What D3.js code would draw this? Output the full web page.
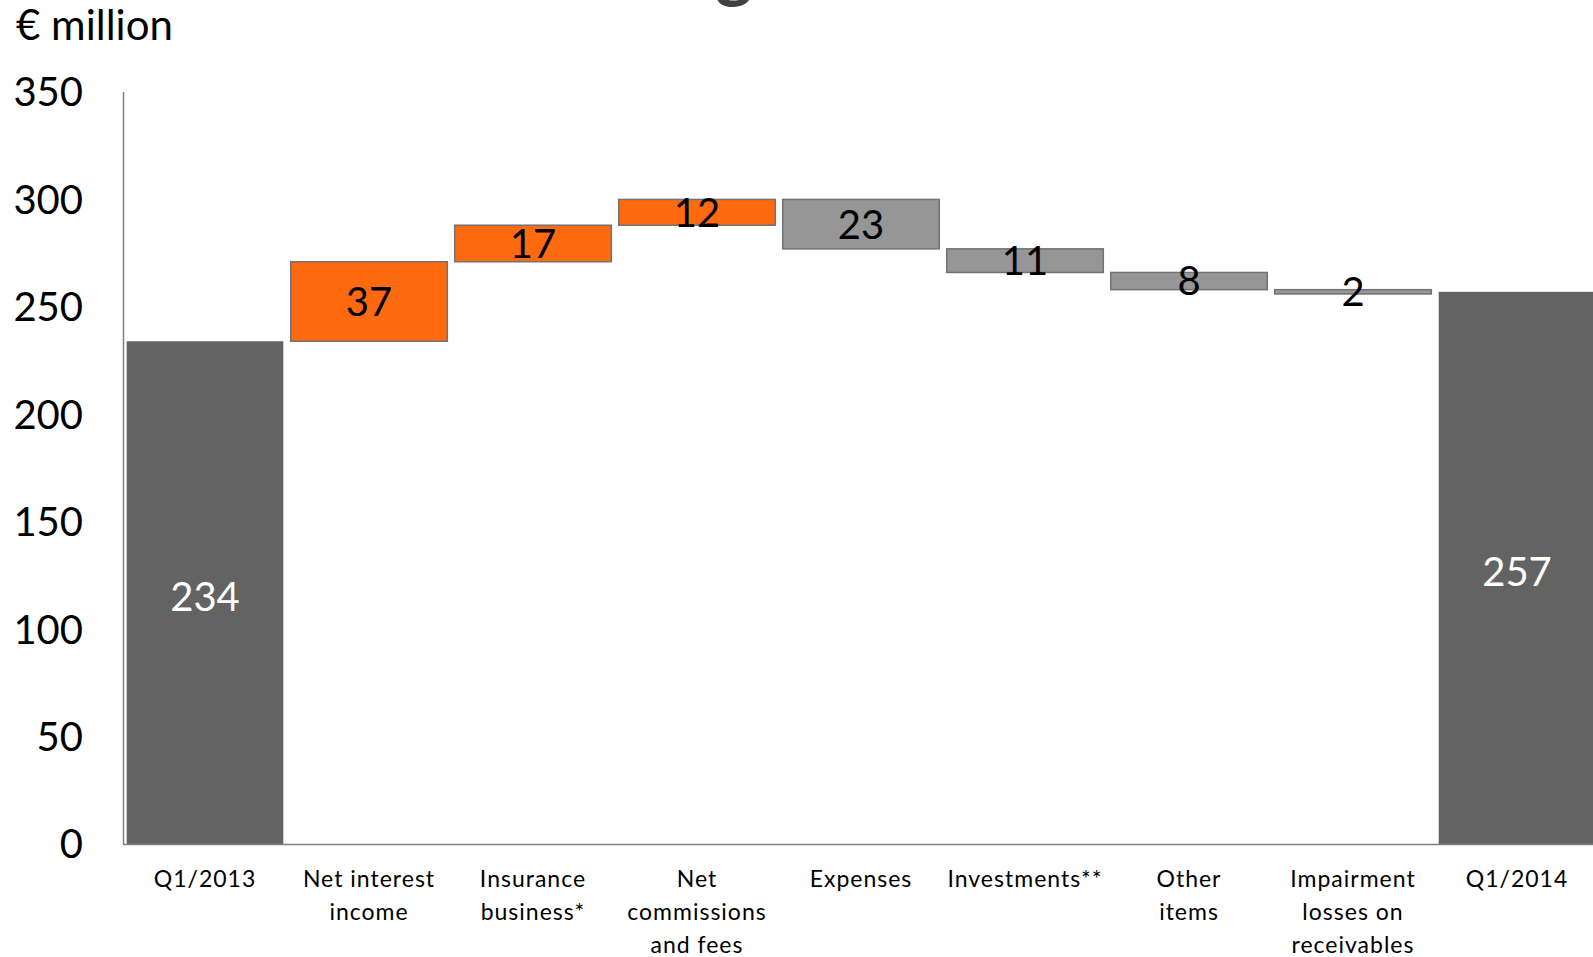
<!DOCTYPE html>
<html>
<head>
<meta charset="utf-8">
<style>
  body { margin: 0; background: #fff; overflow: hidden; }
  svg text { font-family: Lato, "Open Sans", sans-serif; }
</style>
</head>
<body>
<div id="chart"></div>
<script src="https://d3js.org/d3.v7.min.js"></script>
<script>
  // waterfall data
  var categories = ["Q1/2013", "Net interest income", "Insurance business*", "Net commissions and fees",
                    "Expenses", "Investments**", "Other items", "Impairment losses on receivables", "Q1/2014"];
  var labelLines = [["Q1/2013"], ["Net interest", "income"], ["Insurance", "business*"], ["Net", "commissions", "and fees"],
                    ["Expenses"], ["Investments**"], ["Other", "items"], ["Impairment", "losses on", "receivables"], ["Q1/2014"]];
  var values = [234, 37, 17, 12, -23, -11, -8, -2, 257];
  var kinds = ["total", "up", "up", "up", "down", "down", "down", "down", "total"];
  var yTicks = [0, 50, 100, 150, 200, 250, 300, 350];

  var width = 1593, height = 957;
  var svg = d3.select("#chart").append("svg")
    .attr("width", width)
    .attr("height", height);

  var x = d3.scaleBand()
    .domain(categories)
    .range([123, 123 + 9 * 164])
    .paddingInner(0.045)
    .paddingOuter(0.0225);

  var y = d3.scaleLinear()
    .domain([0, 350])
    .range([844, 92]);

  // running totals for the floating bars
  var bars = [];
  var run = 0;
  for (var i = 0; i < values.length; i++) {
    var lo, hi;
    if (kinds[i] == "total") {
      lo = 0; hi = values[i]; run = values[i];
    } else {
      lo = Math.min(run, run + values[i]);
      hi = Math.max(run, run + values[i]);
      run = run + values[i];
    }
    bars.push({ cat: categories[i], lo: lo, hi: hi, v: values[i], kind: kinds[i] });
  }

  var fill = { total: "#636363", up: "#FF6A10", down: "#969696" };

  // title, cut off at the top edge like in the source
  svg.append("text")
    .attr("x", 734)
    .attr("y", -7)
    .attr("text-anchor", "middle")
    .attr("font-size", "72px")
    .attr("font-weight", "bold")
    .attr("fill", "#404040")
    .text("g");

  svg.append("text")
    .attr("x", 16)
    .attr("y", 40)
    .attr("font-size", "42px")
    .attr("fill", "#000")
    .text("€ million");

  svg.selectAll(".ytick")
    .data(yTicks)
    .enter().append("text")
    .attr("class", "ytick")
    .attr("x", 83)
    .attr("y", function(d) { return y(d); })
    .attr("dy", "0.36em")
    .attr("text-anchor", "end")
    .attr("font-size", "40px")
    .attr("fill", "#000")
    .text(function(d) { return d; });

  svg.selectAll(".bar")
    .data(bars)
    .enter().append("rect")
    .attr("class", "bar")
    .attr("x", function(d) { return x(d.cat); })
    .attr("width", x.bandwidth())
    .attr("y", function(d) { return y(d.hi); })
    .attr("height", function(d) { return y(d.lo) - y(d.hi); })
    .attr("fill", function(d) { return fill[d.kind]; })
    .attr("stroke", function(d) { return d.kind == "total" ? "none" : "#737373"; })
    .attr("stroke-width", 1.5);

  // axis lines
  svg.append("line")
    .attr("x1", 123.5).attr("y1", 92)
    .attr("x2", 123.5).attr("y2", 844)
    .attr("stroke", "#808080").attr("stroke-width", 1.5);
  svg.append("line")
    .attr("x1", 123).attr("y1", 844.5)
    .attr("x2", width).attr("y2", 844.5)
    .attr("stroke", "#808080").attr("stroke-width", 1.5);

  svg.selectAll(".val")
    .data(bars)
    .enter().append("text")
    .attr("class", "val")
    .attr("x", function(d) { return x(d.cat) + x.bandwidth() / 2; })
    .attr("y", function(d) { return (y(d.lo) + y(d.hi)) / 2 + (d.kind == "total" ? 4 : 0); })
    .attr("dy", "0.36em")
    .attr("text-anchor", "middle")
    .attr("font-size", "40px")
    .attr("fill", function(d) { return d.kind == "total" ? "#fff" : "#000"; })
    .text(function(d) { return Math.abs(d.v); });

  var cat = svg.selectAll(".cat")
    .data(categories)
    .enter().append("text")
    .attr("class", "cat")
    .attr("x", function(d) { return x(d) + x.bandwidth() / 2; })
    .attr("y", 887)
    .attr("text-anchor", "middle")
    .attr("font-size", "23px")
    .attr("letter-spacing", "1px")
    .attr("fill", "#000");
  cat.each(function(d, i) {
    var t = d3.select(this);
    labelLines[i].forEach(function(line, j) {
      t.append("tspan")
        .attr("x", x(d) + x.bandwidth() / 2)
        .attr("dy", j == 0 ? 0 : 33)
        .text(line);
    });
  });
</script>
</body>
</html>
